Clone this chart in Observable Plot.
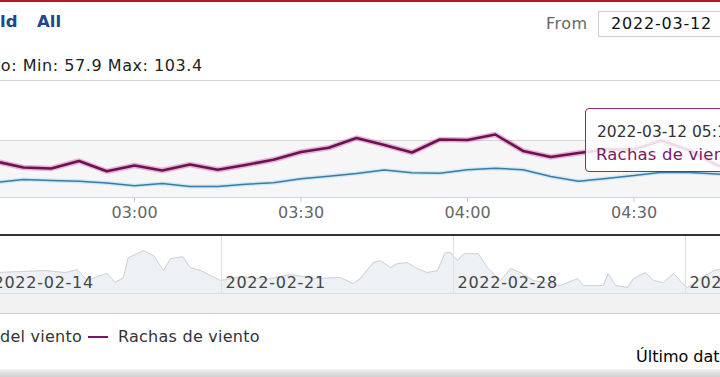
<!DOCTYPE html>
<html><head><meta charset="utf-8">
<script src="https://cdn.jsdelivr.net/npm/d3@7"></script>
<script src="https://cdn.jsdelivr.net/npm/@observablehq/plot@0.6"></script>
<style>
html,body{margin:0;padding:0;background:#fff;overflow:hidden;}
#wrap{position:relative;width:720px;height:377px;overflow:hidden;font-family:"DejaVu Sans",sans-serif;font-size:16px;}
.abs{position:absolute;white-space:nowrap;line-height:20px;}
#main,#nav{position:absolute;left:0;}
#main{top:70px;} #nav{top:235px;}
svg{overflow:hidden;}
</style></head><body><div id="wrap">
<div class="abs" style="left:0;top:0;width:720px;height:2px;background:#b5172b"></div>
<div class="abs" style="left:0;top:12px;color:#21468b;font-weight:bold;font-size:16.5px">ld</div>
<div class="abs" style="left:37px;top:12px;color:#21468b;font-weight:bold;font-size:16.5px">All</div>
<div class="abs" style="left:546px;top:14px;color:#666;letter-spacing:0.5px">From</div>
<div class="abs" style="left:598px;top:11px;width:140px;height:26px;border:1px solid #ccc;box-sizing:border-box"></div>
<div class="abs" style="left:611px;top:14px;color:#111;letter-spacing:0.8px">2022-03-12</div>
<div class="abs" style="left:-6px;top:56px;color:#222;letter-spacing:0.55px">to: Min: 57.9 Max: 103.4</div>
<div id="main"></div>
<div id="nav"></div>
<div class="abs" style="left:0;top:234px;width:720px;height:1.5px;background:#333"></div>
<div class="abs" style="left:0;top:294px;width:720px;height:19px;background:#f2f2f2"></div>
<div class="abs" style="left:0;top:313px;width:720px;height:1px;background:#ccc"></div>
<div class="abs" style="left:0;top:327px;color:#333;letter-spacing:0.25px">del viento</div>
<div class="abs" style="left:88px;top:336px;width:20px;height:2px;background:#7b1560"></div>
<div class="abs" style="left:118px;top:327px;color:#333;letter-spacing:0.25px">Rachas de viento</div>
<div class="abs" style="left:636px;top:347px;color:#000">Último dat</div>
<div class="abs" style="left:0;top:369px;width:720px;height:8px;background:linear-gradient(#f2f2f2,#cfcfcf)"></div>
<div class="abs" style="left:585px;top:108px;width:160px;height:64px;border:1.5px solid #8a2a70;border-radius:4px;background:rgba(255,255,255,0.86);box-sizing:border-box"></div>
<div class="abs" style="left:597px;top:122px;color:#333;font-size:15.5px">2022-03-12 05:1</div>
<div class="abs" style="left:596px;top:145px;color:#7b1a64;font-size:16.5px;letter-spacing:0.2px">Rachas de vient</div>
</div>
<script>
// Main chart (2022-03-12), 5-minute samples
const times = ["02:35","02:40","02:45","02:50","02:55","03:00","03:05","03:10","03:15","03:20","03:25","03:30","03:35","03:40","03:45","03:50","03:55","04:00","04:05","04:10","04:15","04:20","04:25","04:30","04:35","04:40","04:45","04:50"];
const rachas = [82.5,77.5,76.7,82.9,74.4,79.2,75.0,80.0,75.6,79.6,83.9,90.4,93.9,102.1,96.3,90.0,100.8,100.4,105.0,91.3,86.3,89.6,92.5,92.5,100.0,91.7,79.2,75.0];
const media = [65.0,67.5,66.7,66.1,64.6,62.3,64.2,61.7,61.7,63.6,64.8,68.1,70.3,72.5,75.4,73.1,72.8,75.6,76.9,75.6,70.0,66.1,68.3,70.8,73.6,73.3,72.1,70.0];
const mainTicks = ["03:00","03:30","04:00","04:30"];
const yGrid = [100,150];

// Navigator
const navTimes = ["2022-02-14T04:00","2022-02-14T22:30","2022-02-15T16:30","2022-02-16T07:00","2022-02-16T15:30","2022-02-16T23:00","2022-02-17T06:00","2022-02-17T13:30","2022-02-17T19:00","2022-02-18T01:00","2022-02-18T04:30","2022-02-18T11:00","2022-02-18T15:30","2022-02-18T23:00","2022-02-19T06:00","2022-02-19T11:00","2022-02-19T20:00","2022-02-20T01:30","2022-02-20T09:00","2022-02-20T16:00","2022-02-20T23:30","2022-02-21T14:00","2022-02-22T08:00","2022-02-23T02:00","2022-02-23T20:00","2022-02-24T14:00","2022-02-24T23:30","2022-02-25T04:30","2022-02-25T14:00","2022-02-25T19:00","2022-02-26T02:30","2022-02-26T07:30","2022-02-26T14:30","2022-02-26T22:00","2022-02-27T05:00","2022-02-27T12:30","2022-02-27T18:00","2022-02-27T22:00","2022-02-28T03:00","2022-02-28T07:30","2022-02-28T18:00","2022-03-01T00:30","2022-03-01T10:00","2022-03-01T17:30","2022-03-02T00:30","2022-03-02T10:00","2022-03-03T05:30","2022-03-03T18:00","2022-03-03T22:00","2022-03-04T12:30","2022-03-04T16:00","2022-03-04T21:30","2022-03-05T06:00","2022-03-05T10:30","2022-03-05T19:00","2022-03-06T01:00","2022-03-06T08:00","2022-03-06T15:30","2022-03-06T22:00","2022-03-07T01:30","2022-03-07T11:00","2022-03-07T20:30","2022-03-08T05:00"];
const navValues = [37.8,39.6,41.4,37.8,43.2,23.4,30.6,36.0,19.8,28.8,64.8,72.0,77.4,68.4,41.4,63.0,66.6,46.8,41.4,32.4,23.4,30.6,25.2,34.2,27.0,28.8,18.0,27.0,55.8,59.4,46.8,54.0,55.8,45.0,37.8,41.4,73.8,73.8,59.4,72.0,72.0,46.8,23.4,45.0,37.8,23.4,14.4,27.0,14.4,14.4,36.0,14.4,10.8,27.0,37.8,23.4,19.8,36.0,18.0,10.8,27.0,41.4,45.0];
const navTicks = ["2022-02-14","2022-02-21","2022-02-28","2022-03-07"];

const day = "2022-03-12";
const toDate = t => new Date(`${day}T${t}:00Z`);
const rows = times.map((t,i)=>({time: toDate(t), rachas: rachas[i], media: media[i]}));
const xDomain = [new Date(Date.UTC(2022,2,12,2,35,51)), new Date(Date.UTC(2022,2,12,4,45,35))];
const yDomain = [52.5, 150];

const main = Plot.plot({
  width:720, height:170, marginTop:10, marginBottom:43, marginLeft:0, marginRight:0,
  style:{fontFamily:"DejaVu Sans", fontSize:"16px", background:"transparent"},
  x:{type:"utc", domain:xDomain, axis:null},
  y:{domain:yDomain, axis:null},
  marks:[
    Plot.rect([0], {x1:()=>xDomain[0], x2:()=>xDomain[1], y1:()=>yDomain[0], y2:()=>yGrid[0], fill:"#f6f6f6"}),
    Plot.ruleY(yGrid, {stroke:"#d4d4d4"}),
    Plot.ruleY([yDomain[0]], {stroke:"#ccd6eb"}),
    Plot.lineY(rows, {x:"time", y:"media", stroke:"#a6dcef", strokeWidth:4, strokeOpacity:0.5, clip:true}),
    Plot.lineY(rows, {x:"time", y:"media", stroke:"#3b7ca6", strokeWidth:1.5, clip:true}),
    Plot.lineY(rows, {x:"time", y:"rachas", stroke:"#d060b4", strokeWidth:5.5, strokeOpacity:0.45, clip:true}),
    Plot.lineY(rows, {x:"time", y:"rachas", stroke:"#6d1250", strokeWidth:2.6, clip:true}),
    Plot.axisX({ticks: mainTicks.map(toDate), tickFormat: d3.utcFormat("%H:%M"), tickSize:5, tickPadding:4, stroke:"#c8c8c8", fill:"#666", fontSize:16, label:null})
  ]
});
document.getElementById("main").appendChild(main);

const navRows = navTimes.map((t,i)=>({time:new Date(t+":00Z"), v:navValues[i]}));
const navTickDates = navTicks.map(d=>new Date(d+"T00:00:00Z"));
const navDomain = [new Date(Date.UTC(2022,1,14,7,58)), new Date(Date.UTC(2022,2,8,1,23))];
const nav = Plot.plot({
  width:720, height:80, marginTop:1, marginBottom:22, marginLeft:0, marginRight:0,
  style:{fontFamily:"DejaVu Sans", fontSize:"16px", background:"transparent", letterSpacing:"0.75px"},
  x:{type:"utc", domain:navDomain, axis:null},
  y:{domain:[0,103], axis:null},
  marks:[
    Plot.areaY(navRows, {x:"time", y:"v", fill:"#edf0f4", clip:true}),
    Plot.lineY(navRows, {x:"time", y:"v", stroke:"#cdd2d8", strokeWidth:1, clip:true}),
    Plot.ruleX(navTickDates, {stroke:"#e0e0e0", clip:true}),
    Plot.ruleY([0], {stroke:"#dddddd"}),
    Plot.text(navTickDates, {x:d=>d, text:d3.utcFormat("%Y-%m-%d"), frameAnchor:"bottom", textAnchor:"start", lineAnchor:"middle", dx:4, dy:-11, fill:"#444", fontSize:16})
  ]
});
document.getElementById("nav").appendChild(nav);
</script>
</body></html>
